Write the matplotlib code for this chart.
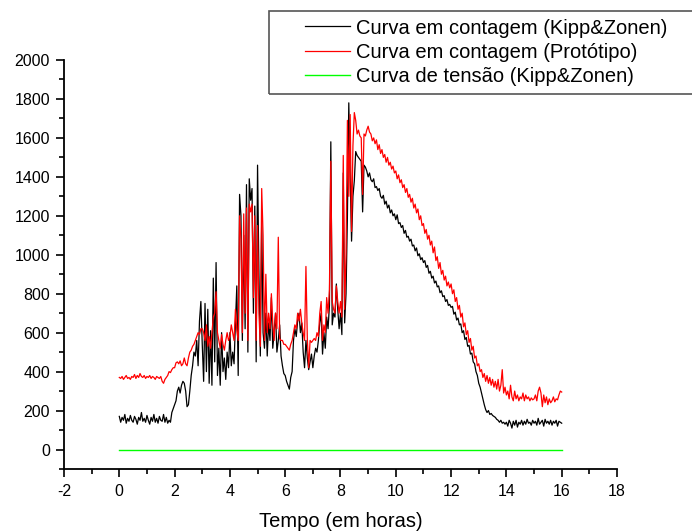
import numpy as np
import matplotlib
matplotlib.use("Agg")
import matplotlib.pyplot as plt
from matplotlib.ticker import MultipleLocator
from matplotlib.patches import Rectangle

plt.rcParams['font.family'] = ['Liberation Sans', 'DejaVu Sans']
plt.rcParams['axes.unicode_minus'] = False

# ------------------------
# Data (one sample every 0.05 h)
# ------------------------

hours = np.linspace(0, 16, 321)

kipp_counts = [
    # 0 h
    170, 140, 165, 150, 180, 135, 160, 145, 175, 150, 140, 170, 155, 130, 165, 150, 190, 145, 160, 140,
    # 1 h
    175, 150, 130, 165, 145, 180, 140, 160, 135, 170, 150, 145, 180, 140, 165, 135, 150, 140, 190, 210,
    # 2 h
    230, 250, 300, 320, 290, 330, 350, 340, 300, 220, 230, 300, 380, 430, 500, 480, 560, 430, 660, 760,
    # 3 h
    540, 350, 750, 400, 720, 340, 610, 330, 880, 450, 960, 380, 520, 330, 600, 400, 470, 360, 500, 420,
    # 4 h
    600, 430, 500, 440, 650, 840, 380, 1310, 1200, 560, 1100, 620, 1360, 500, 1390, 1280, 1340, 700, 1250, 450,
    # 5 h
    1460, 900, 480, 1180, 600, 520, 700, 480, 650, 560, 780, 520, 600, 700, 500, 560, 640, 480, 430, 390,
    # 6 h
    380, 350, 330, 310, 370, 400, 560, 620, 580, 660, 700, 600, 650, 500, 420, 560, 470, 410, 450, 490,
    # 7 h
    420, 480, 520, 500, 560, 650, 700, 490, 600, 520, 680, 620, 740, 1580, 640, 700, 680, 850, 720, 620,
    # 8 h
    700, 590, 1420, 650, 800, 1200, 1780, 1400, 1070, 1300, 1380, 1530, 1510, 1500, 1490, 1480, 1220, 1460, 1450, 1430,
    # 9 h
    1400, 1420, 1385, 1375, 1390, 1345, 1350, 1330, 1340, 1300, 1290, 1305, 1260, 1275, 1240, 1255, 1215, 1230, 1200, 1210,
    # 10 h
    1180, 1205, 1160, 1165, 1140, 1150, 1110, 1125, 1090, 1095, 1070, 1080, 1045, 1050, 1020, 1035, 995, 1005, 975, 985,
    # 11 h
    960, 970, 935, 945, 905, 915, 880, 890, 855, 865, 835, 840, 805, 815, 785, 790, 760, 770, 740, 745,
    # 12 h
    730, 735, 695, 705, 665, 675, 640, 645, 600, 610, 565, 575, 530, 535, 490, 495, 450, 440, 400, 380,
    # 13 h
    340, 320, 290, 260, 230, 205, 190, 200, 180, 185, 175, 170, 165, 155, 150, 140, 150, 135, 140, 130,
    # 14 h
    140, 120, 150, 135, 110, 145, 125, 150, 115, 140, 130, 150, 125, 145, 130, 155, 135, 140, 125, 150,
    # 15 h
    135, 145, 125, 160, 130, 140, 150, 120, 155, 135, 145, 130, 150, 125, 145, 135, 150, 120, 145, 140,
    # 16 h
    135,
]

proto_counts = [
    # 0 h
    370, 365, 375, 360, 370, 380, 365, 370, 360, 375, 370, 385, 365, 380, 370, 390, 375, 370, 380, 365,
    # 1 h
    375, 370, 380, 365, 375, 370, 360, 375, 370, 365, 375, 350, 340, 360, 370, 380, 400, 395, 410, 420,
    # 2 h
    420, 445, 450, 440, 455, 430, 440, 470, 440, 430, 470, 500, 510, 530, 540, 560, 580, 600, 590, 620,
    # 3 h
    620, 600, 560, 640, 530, 580, 520, 600, 680, 700, 810, 600, 560, 520, 590, 540, 510, 560, 600, 560,
    # 4 h
    580, 640, 600, 560, 720, 610, 560, 1200, 1080, 600, 1210, 700, 1240, 560, 1260, 1220, 1260, 780, 1200, 560,
    # 5 h
    1150, 700, 530, 1340, 1100, 560, 900, 600, 700, 620, 800, 650, 560, 700, 620, 1090, 570, 560, 560, 540,
    # 6 h
    540, 530, 520, 510, 540, 560, 600, 640, 620, 700, 660, 720, 650, 600, 560, 940, 570, 420, 560, 550,
    # 7 h
    560, 570, 560, 600, 580, 700, 760, 560, 640, 600, 780, 700, 820, 1480, 760, 720, 700, 840, 760, 700,
    # 8 h
    760, 680, 1510, 720, 1000, 1690, 1300, 1720, 1120, 1560, 1730, 1690, 1620, 1640, 1610, 1600, 1310, 1620, 1610, 1640,
    # 9 h
    1660, 1630, 1620, 1585, 1600, 1570, 1590, 1540, 1565, 1520, 1540, 1500, 1515, 1475, 1500, 1460, 1475, 1440, 1455, 1420,
    # 10 h
    1430, 1390, 1410, 1370, 1385, 1345, 1360, 1320, 1340, 1295, 1310, 1270, 1290, 1240, 1260, 1215, 1235, 1180, 1200, 1150,
    # 11 h
    1160, 1110, 1130, 1080, 1100, 1050, 1070, 1010, 1040, 970, 990, 930, 960, 900, 920, 870, 890, 840, 860, 830,
    # 12 h
    850, 800, 820, 760, 780, 720, 740, 680, 700, 630, 650, 590, 610, 550, 570, 510, 530, 470, 480, 430,
    # 13 h
    440, 400, 410, 370, 390, 350, 380, 340, 370, 330, 360, 320, 350, 310, 360, 300, 330, 410, 290, 320,
    # 14 h
    280, 300, 260, 330, 270, 250, 300, 260, 280, 250, 270, 260, 290, 250, 280, 260, 270, 250, 265, 255,
    # 15 h
    260, 280, 250, 300, 320, 290, 220, 280, 240, 270, 230, 260, 240, 250, 270, 245, 260, 255, 280, 300,
    # 16 h
    295,
]

kipp_tension = [0] * 321

labels = [
    "Curva em contagem (Kipp&Zonen)",
    "Curva em contagem (Protótipo)",
    "Curva de tensão (Kipp&Zonen)",
]

# ------------------------
# Plot
# ------------------------

fig = plt.figure(figsize=(6.92, 5.31), dpi=100)
ax = fig.add_axes([0.0925, 0.1168, 0.7991, 0.7702])

l1, = ax.plot(hours, kipp_counts, color='black', linewidth=0.9)
l2, = ax.plot(hours, proto_counts, color='#ff0000', linewidth=0.9)
l3, = ax.plot(hours, kipp_tension, color='#00ff00', linewidth=1.0)

ax.set_xlim(-2, 18)
ax.set_ylim(-100, 2000)
ax.xaxis.set_major_locator(MultipleLocator(2))
ax.xaxis.set_minor_locator(MultipleLocator(1))
ax.yaxis.set_major_locator(MultipleLocator(200))
ax.yaxis.set_minor_locator(MultipleLocator(100))
ax.set_yticks(np.arange(0, 2001, 200))

for side in ['top', 'right']:
    ax.spines[side].set_visible(False)
for side in ['left', 'bottom']:
    ax.spines[side].set_linewidth(1.3)

ax.tick_params(which='major', direction='out', length=6, width=1.2, labelsize=11.5)
ax.tick_params(axis='y', which='major', pad=4)
ax.tick_params(axis='x', which='major', pad=5)
ax.tick_params(which='minor', direction='out', length=3.5, width=1.2)

ax.set_xlabel("Tempo (em horas)", fontsize=14.5, labelpad=9)

# legend frame runs off the right edge of the figure, like the original
fig.patches.append(Rectangle((269 / 692, 1 - 93.7 / 531), 0.7, 83 / 531,
                             transform=fig.transFigure, fill=False,
                             edgecolor='#555555', linewidth=1.2, clip_on=False))
fig.legend([l1, l2, l3], labels, loc='upper left',
           bbox_to_anchor=(305 / 692, 1 - 18.5 / 531), frameon=False,
           fontsize=14.5, handlelength=2.24, handletextpad=0.3,
           labelspacing=0.27, borderpad=0, borderaxespad=0)

fig.savefig("out.png", dpi=100)
